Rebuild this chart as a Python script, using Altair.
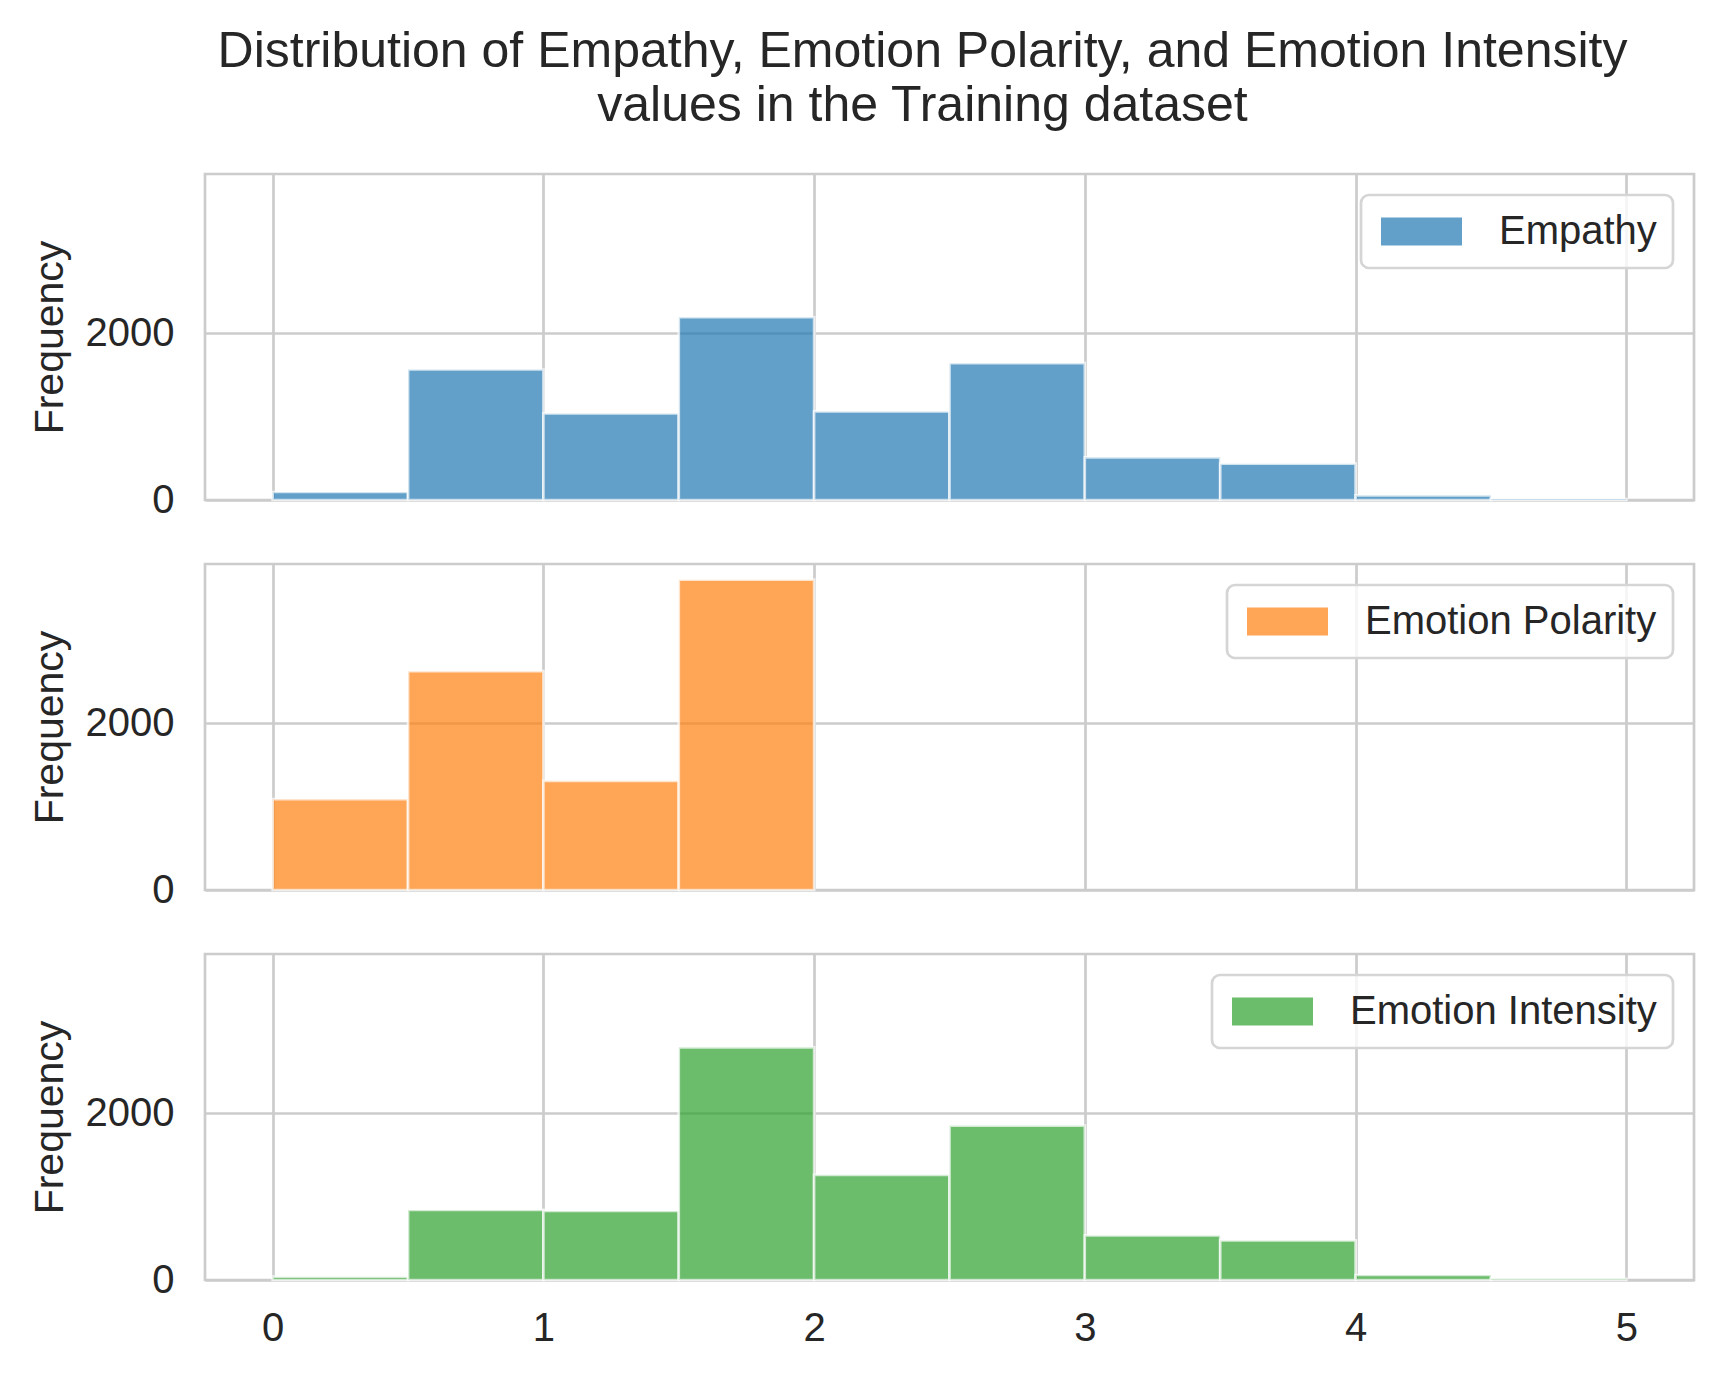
import altair as alt
import pandas as pd

bin_edges = [0.0, 0.5, 1.0, 1.5, 2.0, 2.5, 3.0, 3.5, 4.0, 4.5, 5.0]
empathy_counts = [96, 1565, 1038, 2192, 1062, 1641, 512, 436, 56, 12]
polarity_counts = [1090, 2625, 1310, 3722]
intensity_counts = [40, 840, 828, 2791, 1261, 1852, 535, 475, 60, 15]
series_names = ["Empathy", "Emotion Polarity", "Emotion Intensity"]
series_colors = ["#1f77b4", "#ff7f0e", "#2ca02c"]
x_ticks = [0, 1, 2, 3, 4, 5]
y_ticks = [0, 2000]
title_lines = [
    "Distribution of Empathy, Emotion Polarity, and Emotion Intensity",
    "values in the Training dataset",
]
y_label = "Frequency"

FONT = "Liberation Sans"
TEXT = "#262626"
GRID = "#cccccc"


def make_df(name, counts):
    n = len(counts)
    return pd.DataFrame(
        {
            "series": [name] * n,
            "start": bin_edges[:n],
            "end": bin_edges[1 : n + 1],
            "count": counts,
            "base": [0] * n,
        }
    )


def panel(name, color, counts, show_x):
    df = make_df(name, counts)
    x_axis = alt.Axis(
        values=x_ticks,
        grid=True,
        labels=show_x,
        ticks=False,
        tickSize=0,
        domain=False,
        title=None,
        labelPadding=28,
        labelFontSize=40,
        labelFlush=False,
        format="d",
    )
    y_axis = alt.Axis(
        values=y_ticks,
        grid=True,
        ticks=False,
        tickSize=0,
        domain=False,
        title=y_label,
        titleFontSize=41,
        titleFontWeight="normal",
        titlePadding=14,
        labelPadding=31,
        labelFontSize=40,
        format="d",
    )
    return (
        alt.Chart(df)
        .mark_bar(
            fillOpacity=0.7,
            stroke="white",
            strokeOpacity=0.7,
            strokeWidth=2.7,
        )
        .encode(
            x=alt.X(
                "start:Q",
                scale=alt.Scale(domain=[-0.25, 5.25], nice=False, zero=False),
                axis=x_axis,
            ),
            x2="end:Q",
            y=alt.Y(
                "count:Q",
                scale=alt.Scale(domain=[0, 3910], nice=False),
                axis=y_axis,
            ),
            y2="base:Q",
            color=alt.Color(
                "series:N",
                scale=alt.Scale(domain=[name], range=[color]),
                legend=alt.Legend(title=None),
            ),
        )
        .properties(width=1489, height=326)
    )


p1 = panel(series_names[0], series_colors[0], empathy_counts, False)
p2 = panel(series_names[1], series_colors[1], polarity_counts, False)
p3 = panel(series_names[2], series_colors[2], intensity_counts, True)

chart = (
    alt.vconcat(p1, p2, p3, spacing=40)
    .resolve_scale(color="independent")
    .resolve_legend(color="independent")
    .properties(
        title=alt.Title(
            text=title_lines,
            fontSize=50,
            font=FONT,
            fontWeight="normal",
            color=TEXT,
            lineHeight=54,
            anchor="middle",
            offset=42,
            dx=61,
        ),
        padding={"left": 19, "top": 18, "right": 20, "bottom": 10},
        background="white",
    )
    .configure_view(stroke=GRID, strokeWidth=2.7)
    .configure_axis(
        gridColor=GRID,
        gridWidth=2.7,
        labelColor=TEXT,
        titleColor=TEXT,
        labelFont=FONT,
        titleFont=FONT,
    )
    .configure_legend(
        orient="top-right",
        offset=21,
        padding=16,
        strokeColor="#d5d5d5",
        strokeWidth=2.7,
        fillColor="rgba(255,255,255,0.8)",
        cornerRadius=8,
        labelFontSize=40,
        labelFont=FONT,
        labelColor=TEXT,
        labelLimit=600,
        labelOffset=57,
        symbolOffset=24,
        symbolType="M-2,-0.69L2,-0.69L2,0.69L-2,0.69Z",
        symbolSize=1640,
        symbolOpacity=0.7,
        symbolStrokeWidth=0,
    )
)

chart.save("out.html", embed_options={"renderer": "svg", "actions": False})
